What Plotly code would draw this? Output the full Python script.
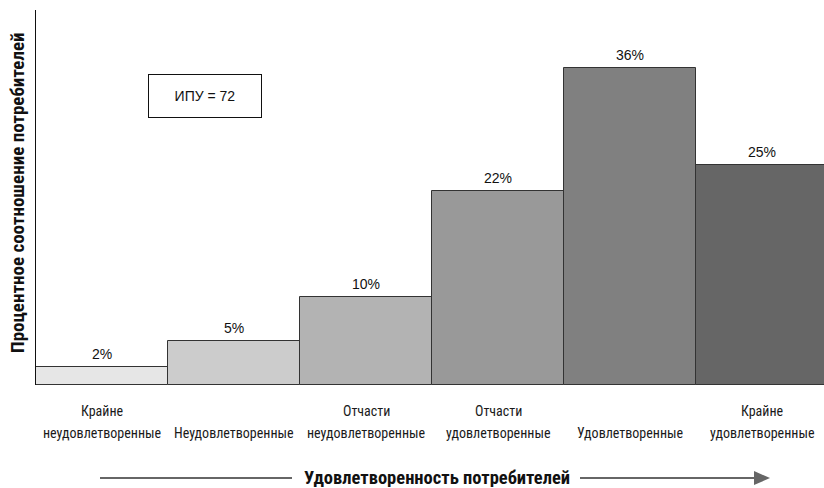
import plotly.graph_objects as go

# Satisfaction groups, share of customers (%) and bar shades
categories = [
    "Крайне неудовлетворенные",
    "Неудовлетворенные",
    "Отчасти неудовлетворенные",
    "Отчасти удовлетворенные",
    "Удовлетворенные",
    "Крайне удовлетворенные",
]
label_top = ["Крайне", "", "Отчасти", "Отчасти", "", "Крайне"]
label_bottom = [
    "неудовлетворенные",
    "Неудовлетворенные",
    "неудовлетворенные",
    "удовлетворенные",
    "Удовлетворенные",
    "удовлетворенные",
]
shares = [2, 5, 10, 22, 36, 25]
value_labels = ["2%", "5%", "10%", "22%", "36%", "25%"]
bar_colors = ["#e6e6e6", "#cccccc", "#b3b3b3", "#999999", "#808080", "#666666"]
index_text = "ИПУ = 72"
x_title = "Удовлетворенность потребителей"
y_title = "Процентное соотношение потребителей"

NARROW = "Liberation Sans Narrow, Roboto Condensed, Arial Narrow, Roboto, sans-serif"
REGULAR = "Liberation Sans, Arial, sans-serif"

W, H = 824, 488
ML, MR, MT, MB = 36, 0, 10, 103
plot_w = W - ML - MR
plot_h = H - MT - MB
bar_px = 132


def px_y(y):
    """Convert a pixel row of the page to paper coordinates."""
    return 1 - (y - MT) / plot_h


def px_x(x):
    """Convert a pixel column of the page to paper coordinates."""
    return (x - ML) / plot_w


xs = list(range(len(categories)))

fig = go.Figure()
fig.add_trace(go.Bar(
    x=xs,
    y=shares,
    width=1.0,
    marker=dict(color=bar_colors, line=dict(color="#333333", width=1)),
    hoverinfo="skip",
    showlegend=False,
))

for xv, yv, lab in zip(xs, shares, value_labels):
    fig.add_annotation(
        x=xv, y=yv, xref="x", yref="y", text=lab, showarrow=False,
        yanchor="bottom", yshift=3,
        font=dict(family=REGULAR, size=14, color="#111111"),
    )

# two-row category labels under the bars
for xv, top, bottom in zip(xs, label_top, label_bottom):
    if top:
        fig.add_annotation(
            x=xv, y=px_y(411), xref="x", yref="paper", text=top,
            showarrow=False, yanchor="middle",
            font=dict(family=NARROW, size=14, color="#1a1a1a"),
        )
    fig.add_annotation(
        x=xv, y=px_y(433), xref="x", yref="paper", text=bottom,
        showarrow=False, yanchor="middle",
        font=dict(family=NARROW, size=14, color="#1a1a1a"),
    )

# index box
fig.add_annotation(
    x=px_x(205), y=px_y(96), xref="paper", yref="paper",
    text=index_text, showarrow=False, xanchor="center", yanchor="middle",
    width=110, height=40, bordercolor="#111111", borderwidth=1, bgcolor="white",
    font=dict(family=REGULAR, size=14, color="#111111"),
)

# rotated y-axis title
fig.add_annotation(
    x=px_x(17), y=px_y(193), xref="paper", yref="paper",
    text="<b>" + y_title + "</b>", showarrow=False, textangle=-90,
    xanchor="center", yanchor="middle",
    font=dict(family=NARROW, size=19, color="#111111"),
)

# x-axis title with arrow line
ty = px_y(478)
fig.add_annotation(
    x=px_x(437), y=ty, xref="paper", yref="paper",
    text="<b>" + x_title + "</b>", showarrow=False,
    xanchor="center", yanchor="middle", borderpad=0, height=18,
    font=dict(family=NARROW, size=18.5, color="#111111"),
)
fig.add_shape(
    type="line", xref="paper", yref="paper",
    x0=px_x(100), x1=px_x(292), y0=ty, y1=ty,
    line=dict(color="#666666", width=2),
)
fig.add_shape(
    type="line", xref="paper", yref="paper",
    x0=px_x(580), x1=px_x(756), y0=ty, y1=ty,
    line=dict(color="#666666", width=2),
)
fig.add_shape(
    type="path", xref="paper", yref="paper",
    path="M {a},{b} L {c},{d} L {a},{e} Z".format(
        a=px_x(754), b=ty + 7 / plot_h,
        c=px_x(770), d=ty,
        e=ty - 7 / plot_h),
    fillcolor="#666666", line=dict(color="#666666", width=0),
)

fig.update_layout(
    width=W, height=H,
    margin=dict(l=ML, r=MR, t=MT, b=MB),
    paper_bgcolor="white", plot_bgcolor="white",
    bargap=0,
    xaxis=dict(
        range=[-0.5, -0.5 + plot_w / bar_px],
        showticklabels=False,
        showline=False, showgrid=False, zeroline=False, ticks="",
    ),
    yaxis=dict(
        range=[0, 36 * plot_h / 317],
        showticklabels=False, showgrid=False, zeroline=False, ticks="",
        showline=True, linecolor="#111111", linewidth=1,
    ),
)

fig.write_html("out.html")
